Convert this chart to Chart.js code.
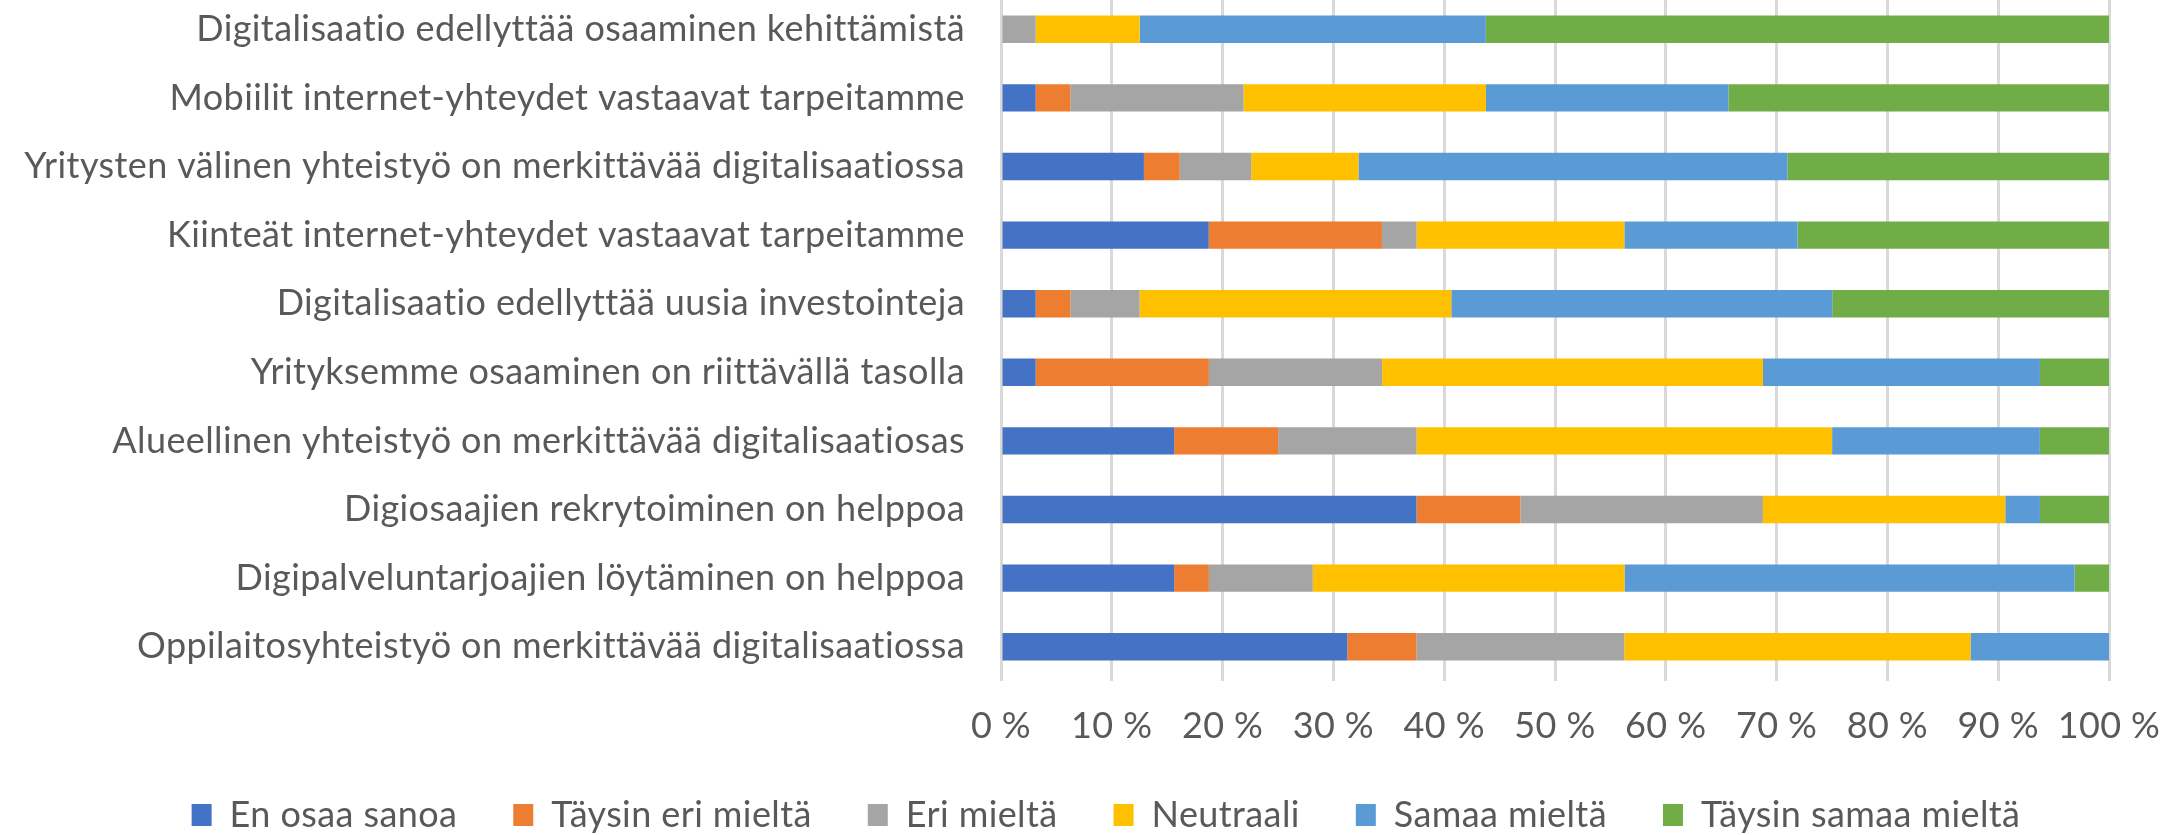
<!DOCTYPE html>
<html lang="fi">
<head>
<meta charset="utf-8">
<title>Digitalisaatio – kyselyn tulokset</title>
<script src="https://cdn.jsdelivr.net/npm/chart.js@4/dist/chart.umd.min.js"></script>
<style>
    html, body { margin: 0; padding: 0; background: #fff; overflow: hidden; }
    #wrap { position: absolute; left: 0; top: -70px; }
</style>
</head>
<body>
<div id="wrap"><canvas id="chart" width="2212" height="913"></canvas></div>
<script>
// Statements, top to bottom
const statements = [
    'Digitalisaatio edellyttää osaaminen kehittämistä',
    'Mobiilit internet-yhteydet vastaavat tarpeitamme',
    'Yritysten välinen yhteistyö on merkittävää digitalisaatiossa',
    'Kiinteät internet-yhteydet vastaavat tarpeitamme',
    'Digitalisaatio edellyttää uusia investointeja',
    'Yrityksemme osaaminen on riittävällä tasolla',
    'Alueellinen yhteistyö on merkittävää digitalisaatiosas',
    'Digiosaajien rekrytoiminen on helppoa',
    'Digipalveluntarjoajien löytäminen on helppoa',
    'Oppilaitosyhteistyö on merkittävää digitalisaatiossa'
];

// Answer shares in percent, same order as statements
const enOsaaSanoa       = [0, 3.13, 12.90, 18.75, 3.13, 3.13, 15.63, 37.50, 15.63, 31.25];
const taysinEriMielta   = [0, 3.13, 3.23, 15.63, 3.13, 15.63, 9.38, 9.38, 3.13, 6.25];
const eriMielta         = [3.13, 15.63, 6.45, 3.13, 6.25, 15.63, 12.50, 21.88, 9.38, 18.75];
const neutraali         = [9.38, 21.88, 9.68, 18.75, 28.13, 34.38, 37.50, 21.88, 28.13, 31.25];
const samaaMielta       = [31.25, 21.88, 38.71, 15.63, 34.38, 25.00, 18.75, 3.13, 40.63, 12.50];
const taysinSamaaMielta = [56.25, 34.38, 29.03, 28.13, 25.00, 6.25, 6.25, 6.25, 3.13, 0];

const seriesNames = ['En osaa sanoa', 'Täysin eri mieltä', 'Eri mieltä', 'Neutraali', 'Samaa mieltä', 'Täysin samaa mieltä'];
const seriesData = [enOsaaSanoa, taysinEriMielta, eriMielta, neutraali, samaaMielta, taysinSamaaMielta];
const seriesColors = ['#4472C4', '#ED7D31', '#A5A5A5', '#FFC000', '#5B9BD5', '#70AD47'];

// x axis tick labels
const tickLabels = ['0 %', '10 %', '20 %', '30 %', '40 %', '50 %', '60 %', '70 %', '80 %', '90 %', '100 %'];

const textColor = '#595959';
Chart.defaults.font.family = 'Lato, "Open Sans", sans-serif';
Chart.defaults.font.size = 36;
Chart.defaults.color = textColor;

// Slightly wider text, set before measuring and before drawing
const letterSpacingPlugin = {
    id: 'letterSpacing',
    beforeUpdate: chart => { chart.ctx.letterSpacing = '0.4px'; },
    beforeDraw: chart => { chart.ctx.letterSpacing = '0.4px'; }
};

const ctx = document.getElementById('chart').getContext('2d');

// The canvas is a bit wider than the window so that the legend centres like the original
new Chart(ctx, {
    type: 'bar',
    data: {
        labels: statements,
        datasets: seriesNames.map((name, i) => ({
            label: name,
            data: seriesData[i],
            backgroundColor: seriesColors[i],
            borderWidth: 0,
            barPercentage: 0.4,
            categoryPercentage: 1
        }))
    },
    options: {
        indexAxis: 'y',
        responsive: false,
        animation: false,
        layout: {
            padding: { top: 65, left: 0, right: 0, bottom: 0 }
        },
        scales: {
            x: {
                stacked: true,
                min: 0,
                max: 100,
                ticks: {
                    stepSize: 10,
                    padding: 10,
                    callback: (value, index) => tickLabels[index]
                },
                grid: {
                    color: '#D9D9D9',
                    lineWidth: 3,
                    drawTicks: true,
                    tickLength: 14,
                    tickColor: 'rgba(0,0,0,0)'
                },
                border: { display: false },
                afterFit: scale => { scale.height = 60; }
            },
            y: {
                stacked: true,
                ticks: { padding: 36 },
                grid: { display: false, drawTicks: false },
                border: { display: false },
                afterFit: scale => { scale.width = 1001; }
            },
            // empty right axis, keeps room right of the plot
            yRight: {
                type: 'category',
                position: 'right',
                labels: statements,
                ticks: { display: false },
                grid: { display: false, drawTicks: false },
                border: { display: false },
                afterFit: scale => { scale.width = 103; }
            }
        },
        plugins: {
            legend: {
                position: 'bottom',
                labels: {
                    boxWidth: 20,
                    boxHeight: 22,
                    padding: 56,
                    color: textColor
                }
            },
            tooltip: { enabled: false }
        }
    },
    plugins: [letterSpacingPlugin]
});
</script>
</body>
</html>
